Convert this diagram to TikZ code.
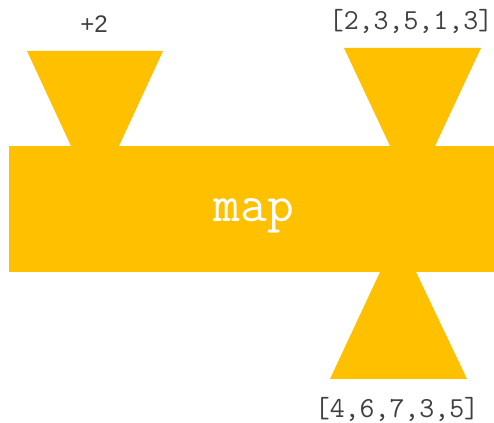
\documentclass[tikz,border=0pt]{standalone}
\usepackage{fontspec}
\setmainfont{Liberation Sans}
\usetikzlibrary{positioning}
\definecolor{MapGold}{HTML}{FFC000}
\definecolor{LabelGray}{HTML}{404040}
\tikzset{
  part/.style={fill=MapGold, draw=none},
  listlabel/.style={anchor=base, text=LabelGray, inner sep=0pt,
    font=\fontsize{29}{34}\selectfont\ttfamily},
}

\begin{document}
\begin{tikzpicture}[x=1pt,y=1pt]
  \useasboundingbox (0,0) rectangle (494,422);
  % funnels
  \fill[part] (27,371) -- (163,371) -- (119,276) -- (71,276) -- cycle;
  \fill[part] (344,374) -- (481,374) -- (435,276) -- (390,276) -- cycle;
  \fill[part] (380,150) -- (416,150) -- (467,43) -- (330,43) -- cycle;
  % body
  \node[part, minimum width=485pt, minimum height=126pt, inner sep=0pt,
    anchor=south west] (body) at (9,150) {};
  \node[anchor=base, text=white, inner sep=0pt,
    font=\fontsize{52}{60}\selectfont\ttfamily] (map) at (254,200) {map};
  % labels
  \node[anchor=base, text=LabelGray, inner sep=0pt,
    font=\fontsize{24}{28}\selectfont] (fn) at (94,389) {+2};
  \node[listlabel] (input) at (411,392) {[2,3,5,1,3]};
  \node[listlabel] (output) at (397,5) {[4,6,7,3,5]};
\end{tikzpicture}
\end{document}
